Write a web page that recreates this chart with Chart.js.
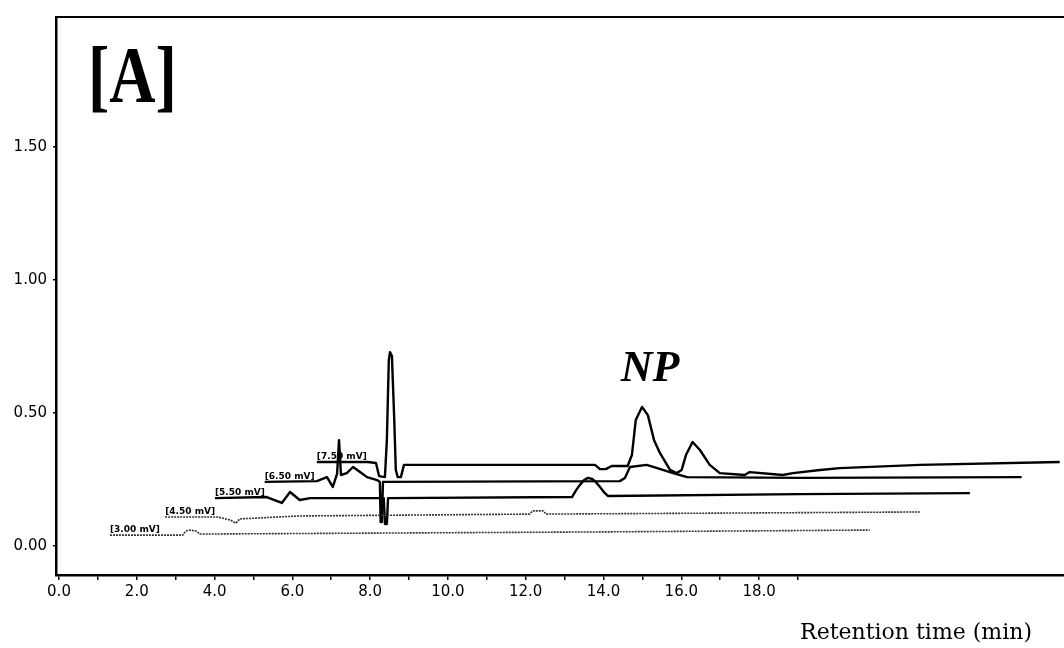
<!DOCTYPE html>
<html>
<head>
<meta charset="utf-8">
<script src="https://cdn.jsdelivr.net/npm/chart.js@4.4.1/dist/chart.umd.min.js"></script>
<style>
html,body{margin:0;padding:0;background:#fff;}
#wrap{width:1064px;height:648px;}
</style>
</head>
<body>
<div id="wrap"><canvas id="myChart" width="1064" height="648"></canvas></div>
<script>
// stacked chromatograms, x = retention time (min), y = absorbance
const traceLabels = ['[3.00 mV]', '[4.50 mV]', '[5.50 mV]', '[6.50 mV]', '[7.50 mV]'];

const t300 = [1.31, 3.18, 3.26, 3.37, 3.53, 3.62, 8.76, 13.91, 20.85];
const a300 = [0.041, 0.041, 0.056, 0.060, 0.056, 0.045, 0.049, 0.053, 0.060];

const t450 = [2.73, 4.08, 4.40, 4.55, 4.65, 6.19, 12.10, 12.18, 12.45, 12.52, 22.14];
const a450 = [0.109, 0.109, 0.098, 0.086, 0.102, 0.113, 0.120, 0.132, 0.132, 0.120, 0.128];

const t550 = [4.01, 5.34, 5.73, 5.94, 6.19, 6.46, 8.35, 8.38, 8.43, 8.46, 13.19, 13.30, 13.39, 13.50, 13.60, 13.71, 13.80, 13.91, 14.01, 14.12, 19.05, 23.42];
const a550 = [0.180, 0.184, 0.162, 0.203, 0.173, 0.180, 0.180, 0.083, 0.083, 0.180, 0.184, 0.211, 0.229, 0.248, 0.256, 0.252, 0.241, 0.222, 0.203, 0.188, 0.195, 0.199];

const t650 = [5.29, 6.63, 6.89, 7.04, 7.15, 7.20, 7.25, 7.40, 7.56, 7.74, 7.92, 8.18, 8.25, 8.27, 8.30, 8.33, 14.42, 14.55, 14.68, 15.11, 15.38, 15.79, 16.15, 19.05, 24.75];
const a650 = [0.241, 0.244, 0.259, 0.222, 0.271, 0.398, 0.267, 0.274, 0.297, 0.278, 0.259, 0.248, 0.241, 0.090, 0.090, 0.241, 0.244, 0.256, 0.297, 0.305, 0.293, 0.274, 0.259, 0.256, 0.259];

const t750 = [6.63, 7.94, 8.15, 8.23, 8.38, 8.43, 8.48, 8.51, 8.56, 8.62, 8.66, 8.71, 8.79, 8.87, 13.78, 13.91, 14.06, 14.21, 14.62, 14.73, 14.83, 14.99, 15.14, 15.30, 15.45, 15.71, 15.88, 16.01, 16.12, 16.29, 16.48, 16.73, 16.99, 17.63, 17.76, 18.61, 18.87, 19.57, 20.07, 22.14, 25.73];
const a750 = [0.316, 0.316, 0.312, 0.263, 0.259, 0.398, 0.699, 0.729, 0.714, 0.474, 0.286, 0.259, 0.259, 0.305, 0.305, 0.289, 0.289, 0.301, 0.301, 0.342, 0.474, 0.523, 0.492, 0.398, 0.350, 0.286, 0.274, 0.286, 0.342, 0.391, 0.361, 0.305, 0.274, 0.267, 0.278, 0.267, 0.274, 0.286, 0.293, 0.305, 0.316];

const xTicks = [0,1,2,3,4,5,6,7,8,9,10,11,12,13,14,15,16,17,18,19];
const yTicks = [0, 0.5, 1.0, 1.5];

const panelLabel = '[A]';
const peakLabel = 'NP';
const peakAt = [15.2, 0.62];
const xTitle = 'Retention time (min)';

const traces = [
	{t: t300, a: a300, w: 1.6, c: '#333', dash: [2, 1]},
	{t: t450, a: a450, w: 1.6, c: '#333', dash: [2, 1]},
	{t: t550, a: a550, w: 2.4, c: '#000', dash: []},
	{t: t650, a: a650, w: 2.4, c: '#000', dash: []},
	{t: t750, a: a750, w: 2.4, c: '#000', dash: []}
];

const textPlugin = {
	id: 'texts',
	afterDatasetsDraw(chart) {
		const ctx = chart.ctx;
		const xs = chart.scales.x, ys = chart.scales.y;
		const area = chart.chartArea;
		ctx.save();
		ctx.fillStyle = '#000';
		// small labels at the start of each trace
		ctx.font = 'bold 9px "DejaVu Sans"';
		ctx.textAlign = 'left';
		ctx.textBaseline = 'bottom';
		traces.forEach((tr, i) => {
			ctx.fillText(traceLabels[i], xs.getPixelForValue(tr.t[0]), ys.getPixelForValue(tr.a[0]) - 1);
		});
		// panel letter, a bit narrower like the original typeface
		ctx.save();
		ctx.translate(area.left + 32, area.top + 85);
		ctx.scale(0.8, 1);
		ctx.font = 'bold 80px "Liberation Serif"';
		ctx.textBaseline = 'alphabetic';
		ctx.fillText(panelLabel, 0, 0);
		ctx.restore();
		ctx.font = 'bold italic 44px "Liberation Serif"';
		ctx.textAlign = 'center';
		ctx.textBaseline = 'alphabetic';
		ctx.fillText(peakLabel, xs.getPixelForValue(peakAt[0]), ys.getPixelForValue(peakAt[1]));
		ctx.font = '22px "DejaVu Serif"';
		ctx.textAlign = 'right';
		ctx.fillText(xTitle, area.right - 32, area.bottom + 64);
		ctx.restore();
	}
};

let myChart = new Chart(document.getElementById('myChart'), {
	type: 'line',
	data: {
		datasets: traces.map((tr, i) => ({
			label: traceLabels[i],
			data: tr.t.map((v, j) => ({x: v, y: tr.a[j]})),
			borderColor: tr.c,
			borderWidth: tr.w,
			borderDash: tr.dash,
			pointRadius: 0,
			tension: 0,
			fill: false,
			borderJoinStyle: 'round'
		}))
	},
	options: {
		responsive: false,
		animation: false,
		devicePixelRatio: 1,
		layout: {padding: 0, autoPadding: false},
		plugins: {legend: {display: false}, tooltip: {enabled: false}},
		scales: {
			x: {
				type: 'linear',
				min: -0.077,
				max: 25.84,
				afterBuildTicks: (s) => { s.ticks = xTicks.map(v => ({value: v})); },
				afterFit: (s) => { s.height = 73; },
				grid: {drawOnChartArea: false, drawTicks: true, tickLength: 5, color: '#000', lineWidth: 1.5},
				border: {display: true, color: '#000', width: 2.5},
				ticks: {
					autoSkip: false,
					maxRotation: 0,
					padding: 3,
					color: '#000',
					font: {family: 'DejaVu Sans', size: 15},
					callback: (v) => (v % 2 === 0 && v <= 18) ? v.toFixed(1) : ''
				}
			},
			x2: {
				type: 'linear',
				position: 'top',
				min: 0,
				max: 1,
				afterFit: (s) => { s.height = 17; },
				grid: {display: false},
				ticks: {display: false},
				border: {display: true, color: '#000', width: 2}
			},
			y: {
				min: -0.109,
				max: 1.989,
				afterBuildTicks: (s) => { s.ticks = yTicks.map(v => ({value: v})); },
				afterFit: (s) => { s.width = 56; },
				grid: {drawOnChartArea: false, drawTicks: true, tickLength: 3, color: '#000', lineWidth: 1.5},
				border: {display: true, color: '#000', width: 2.5},
				ticks: {
					padding: 6,
					color: '#000',
					font: {family: 'DejaVu Sans', size: 15},
					callback: (v) => v.toFixed(2)
				}
			}
		}
	},
	plugins: [textPlugin]
});
</script>
</body>
</html>
